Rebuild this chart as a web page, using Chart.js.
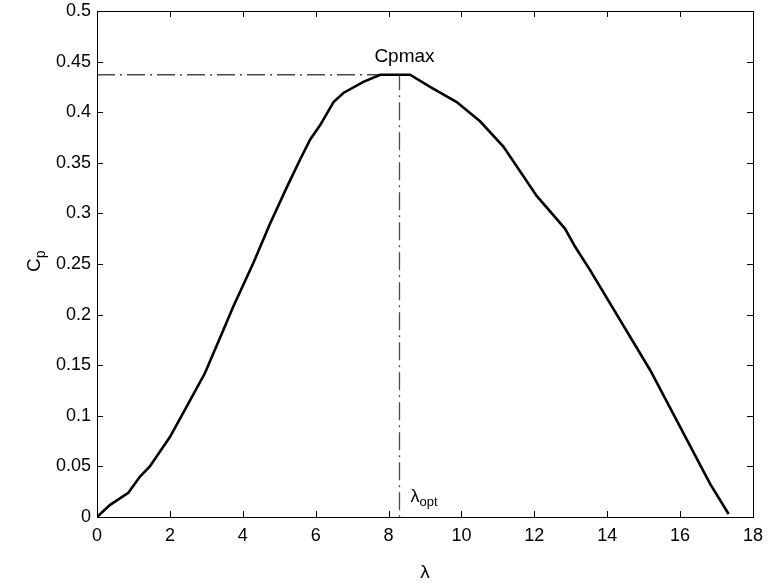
<!DOCTYPE html>
<html>
<head>
<meta charset="utf-8">
<script src="https://cdn.jsdelivr.net/npm/chart.js@4/dist/chart.umd.min.js"></script>
<style>
  html, body { margin: 0; padding: 0; background: #fff; }
  #wrap { width: 768px; height: 588px; }
</style>
</head>
<body>
<div id="wrap"><canvas id="cp" width="768" height="588"></canvas></div>
<script>
// tip speed ratio vs power coefficient
const lambda = [0, 0.36, 0.86, 1.18, 1.45, 2.0, 2.46, 2.96, 3.47, 3.74, 4.29, 4.75, 5.21, 5.57, 5.85, 6.12,
  6.49, 6.76, 7.31, 7.77, 8.59, 9.14, 9.87, 10.51, 11.15, 12.07, 12.84, 13.12, 13.53, 15.18, 16.82, 17.33];
const cp = [0, 0.012, 0.024, 0.040, 0.050, 0.079, 0.109, 0.142, 0.185, 0.208, 0.251, 0.290, 0.326, 0.353, 0.373, 0.387,
  0.410, 0.419, 0.430, 0.437, 0.437, 0.425, 0.410, 0.391, 0.366, 0.317, 0.285, 0.267, 0.244, 0.145, 0.033, 0.003];

const cpMax = 0.437;
const lambdaOpt = 8.3;

const xTicks = [0, 2, 4, 6, 8, 10, 12, 14, 16, 18];
const yTicks = [0, 0.05, 0.1, 0.15, 0.2, 0.25, 0.3, 0.35, 0.4, 0.45, 0.5];

const FONT = "'Liberation Sans', Arial, Helvetica, sans-serif";

// box with inward ticks on all four sides, plus the text annotations
const matlabAxes = {
  id: 'matlabAxes',
  afterDraw(chart) {
    const { ctx, chartArea: a, scales: { x, y } } = chart;
    ctx.save();
    ctx.strokeStyle = '#000';
    ctx.lineWidth = 1;
    ctx.strokeRect(Math.round(a.left) + 0.5, Math.round(a.top) + 0.5,
      Math.round(a.right - a.left), Math.round(a.bottom - a.top));
    const tl = 6;
    ctx.beginPath();
    xTicks.forEach(v => {
      const px = Math.round(x.getPixelForValue(v)) + 0.5;
      ctx.moveTo(px, a.bottom); ctx.lineTo(px, a.bottom - tl);
      ctx.moveTo(px, a.top); ctx.lineTo(px, a.top + tl);
    });
    yTicks.forEach(v => {
      const py = Math.round(y.getPixelForValue(v)) + 0.5;
      ctx.moveTo(a.left, py); ctx.lineTo(a.left + tl, py);
      ctx.moveTo(a.right, py); ctx.lineTo(a.right - tl, py);
    });
    ctx.stroke();

    ctx.fillStyle = '#000';
    // Cpmax label above the peak
    ctx.font = '19px ' + FONT;
    ctx.textAlign = 'center';
    ctx.textBaseline = 'alphabetic';
    ctx.fillText('Cpmax', x.getPixelForValue(lambdaOpt) + 5, y.getPixelForValue(cpMax) - 13);

    // λopt next to the vertical marker
    const lx = x.getPixelForValue(lambdaOpt) + 11;
    const ly = a.bottom - 15;
    ctx.textAlign = 'left';
    ctx.font = '18px ' + FONT;
    ctx.fillText('λ', lx, ly);
    const w = ctx.measureText('λ').width;
    ctx.font = '13px ' + FONT;
    ctx.fillText('opt', lx + w, ly + 4);

    // y axis title C_p
    ctx.translate(40, 262);
    ctx.rotate(-Math.PI / 2);
    ctx.font = '19px ' + FONT;
    ctx.textAlign = 'left';
    ctx.fillText('C', -10, 0);
    const cw = ctx.measureText('C').width;
    ctx.font = '14px ' + FONT;
    ctx.fillText('p', -10 + cw, 5);
    ctx.restore();
  }
};

new Chart(document.getElementById('cp'), {
  type: 'scatter',
  data: {
    datasets: [
      {
        label: 'Cp',
        data: lambda.map((l, i) => ({ x: l, y: cp[i] })),
        showLine: true,
        borderColor: '#000',
        borderWidth: 2.6,
        pointRadius: 0,
        tension: 0
      },
      {
        label: 'Cpmax',
        data: [{ x: 0, y: cpMax }, { x: lambdaOpt, y: cpMax }, { x: lambdaOpt, y: 0 }],
        showLine: true,
        borderColor: '#4a4a4a',
        borderWidth: 1.3,
        borderDash: [18, 5, 2, 5],
        pointRadius: 0,
        tension: 0
      }
    ]
  },
  options: {
    responsive: false,
    animation: false,
    layout: { padding: { top: 11, right: 15, left: 0, bottom: 0 } },
    plugins: {
      legend: { display: false },
      tooltip: { enabled: false }
    },
    scales: {
      x: {
        type: 'linear',
        min: 0,
        max: 18,
        afterFit: s => { s.height = 71; s.paddingRight = 0; s.paddingLeft = 0; },
        afterBuildTicks: s => { s.ticks = xTicks.map(v => ({ value: v })); },
        grid: { display: false, drawTicks: false },
        border: { display: false },
        ticks: { color: '#000', font: { family: FONT, size: 18 }, padding: 8, maxRotation: 0 },
        title: { display: true, text: 'λ', color: '#000', font: { family: FONT, size: 19 }, padding: { top: 16 } }
      },
      y: {
        min: 0,
        max: 0.5,
        afterFit: s => { s.width = 97; s.paddingTop = 0; s.paddingBottom = 0; },
        afterBuildTicks: s => { s.ticks = yTicks.map(v => ({ value: v })); },
        grid: { display: false, drawTicks: false },
        border: { display: false },
        ticks: {
          color: '#000',
          font: { family: FONT, size: 18 },
          padding: 6,
          callback: v => String(+v.toFixed(2))
        }
      }
    }
  },
  plugins: [matlabAxes]
});
</script>
</body>
</html>
